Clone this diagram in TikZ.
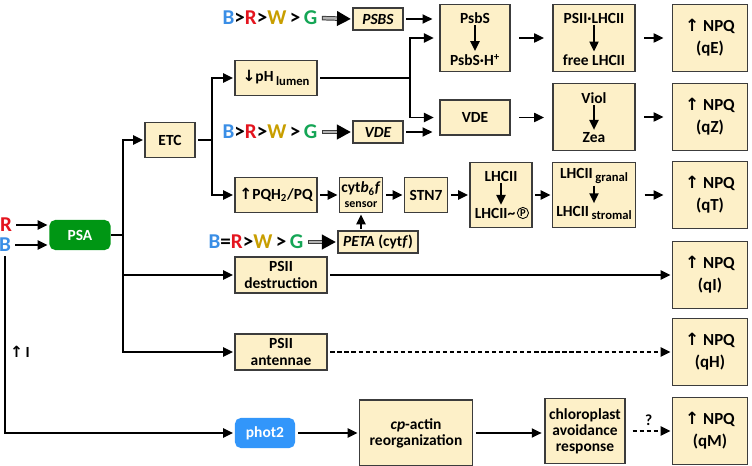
\documentclass[tikz,border=0pt]{standalone}
\usepackage{fontspec}
\setmainfont{Carlito}
\newfontfamily\symf{DejaVu Sans}
\usepackage{tikz}
\usetikzlibrary{positioning,arrows.meta}

\definecolor{boxfill}{RGB}{253,240,200}
\definecolor{boxline}{RGB}{60,60,60}
\definecolor{psagreen}{RGB}{0,150,20}
\definecolor{photblue}{RGB}{50,150,250}
\definecolor{cB}{RGB}{58,142,230}
\definecolor{cR}{RGB}{228,20,30}
\definecolor{cW}{RGB}{200,158,0}
\definecolor{cG}{RGB}{20,165,85}

\newcommand{\up}{{\symf ↑}}
\newcommand{\down}{{\symf ↓}}
\newcommand{\brwg}{\textcolor{cB}{B}>\textcolor{cR}{R}>\textcolor{cW}{W}\,>\,\textcolor{cG}{G}}
\newcommand{\lowsub}[1]{\raisebox{-0.45ex}{\fontsize{9}{9}\selectfont #1}}

\begin{document}
\begin{tikzpicture}[x=0.025cm,y=-0.025cm,
  box/.style={draw=boxline, fill=boxfill, line width=0.8pt, align=center, inner sep=1pt,
    font=\fontsize{11}{11.5}\selectfont\bfseries},
  npq/.style={box, minimum width=1.875cm, minimum height=1.675cm,
    font=\fontsize{12}{15.5}\selectfont\bfseries},
  txt/.style={font=\fontsize{11}{11.5}\selectfont\bfseries, inner sep=1pt},
  seq/.style={font=\fontsize{15}{15}\selectfont\bfseries, inner sep=0pt},
  arr/.style={-{Triangle[length=7pt,width=6.5pt]}, line width=1.1pt, shorten >=1pt},
  line/.style={line width=1.1pt},
  gap/.style={shorten <=6pt, shorten >=6pt},
  dsh/.style={arr, dash pattern=on 3pt off 2pt},
  graw/.style={draw=boxline, line width=3.2pt, -{Triangle[length=10pt,width=10pt,black]},
    shorten <=3pt, shorten >=1pt,
    postaction={draw=black!30, line width=1.8pt, -, shorten <=3.7pt, shorten >=11pt}}]

\useasboundingbox (0,0) rectangle (752,466);

% Light and PSA
\node[seq, text=cR] (Rl) at (6,225) {R};
\node[seq, text=cB] (Bl) at (5,245) {B};
\node[box, draw=none, fill=psagreen, text=white, rounded corners=4pt,
  minimum width=1.525cm, minimum height=0.75cm] (PSA) at (80,235) {PSA};
\draw[arr, shorten <=3pt] (Rl.east) -- (Rl.east -| PSA.west);
\draw[arr, shorten <=3pt] (Bl.east) -- (Bl.east -| PSA.west);

% First fork
\coordinate (j1) at (123,235);
\node[box, minimum width=1.25cm, minimum height=0.875cm] (ETC) at (170,140) {ETC};
\node[box, minimum width=2.3cm, minimum height=0.9cm] (PSIId) at (281,275) {PSII\\destruction};
\node[box, minimum width=2.3cm, minimum height=0.9cm] (PSIIa) at (281,352) {PSII\\antennae};
\draw[line] (PSA.east) -- (j1);
\draw[arr] (j1) |- (ETC.west);
\draw[arr] (j1) |- (PSIId.west);
\draw[arr] (j1) |- (PSIIa.west);

% Second fork
\coordinate (j2) at (212,140);
\node[box, minimum width=2.05cm, minimum height=0.875cm] (pH) at (276,78) {\down pH\,\lowsub{lumen}};
\node[box, minimum width=2.05cm, minimum height=0.875cm] (PQ) at (276,195) {\up PQH\textsubscript{2}/PQ};
\draw[line, shorten <=2pt] (ETC.east) -- (j2);
\draw[arr] (j2) |- (pH.west);
\draw[arr] (j2) |- (PQ.west);

% qE row
\node[seq] (seqE) at (270,18) {\brwg};
\node[box, minimum width=1.25cm, minimum height=0.55cm] (PSBSg) at (378,19) {\textit{PSBS}};
\node[box, minimum width=1.75cm, minimum height=1.675cm] (PsbS) at (475,38) {};
\node[txt] (PsbSa) at (475,18) {PsbS};
\node[txt] (PsbSb) at (475,60) {PsbS·H\textsuperscript{+}};
\node[box, minimum width=2.05cm, minimum height=1.675cm] (PL) at (594,38) {};
\node[txt] (PLa) at (594,18) {PSII·LHCII};
\node[txt] (PLb) at (594,60) {free LHCII};
\node[npq] (qE) at (710,38) {\up\ NPQ\\(qE)};
\draw[graw] (seqE.east) -- (PSBSg.west);
\draw[arr, shorten <=2pt, shorten >=5pt] (PSBSg.east) -- (PSBSg.east -| PsbS.west);
\draw[arr] (PsbSa) -- (PsbSb);
\draw[arr] (PLa) -- (PLb);
\draw[arr, gap] (PsbS) -- (PL);
\draw[arr, gap] (PL) -- (qE);

% pH branch
\coordinate (j3) at (410,78);
\node[box, minimum width=1.75cm, minimum height=0.875cm] (VDE) at (475,117.5) {VDE};
\draw[line, shorten <=2pt] (pH.east) -- (j3);
\draw[arr, shorten >=4pt] (j3) |- (PsbS.west);
\draw[arr, shorten >=4pt] (j3) |- (VDE.west);

% qZ row
\node[seq] (seqZ) at (270,132) {\brwg};
\node[box, minimum width=1.25cm, minimum height=0.55cm] (VDEg) at (378,132) {\textit{VDE}};
\node[box, minimum width=2.05cm, minimum height=1.675cm] (VZ) at (594,117) {};
\node[txt] (VZa) at (594,98) {Viol};
\node[txt] (VZb) at (594,138) {Zea};
\node[npq] (qZ) at (710,117) {\up\ NPQ\\(qZ)};
\draw[graw] (seqZ.east) -- (VDEg.west);
\draw[arr, shorten <=2pt, shorten >=5pt] (VDEg.east) -- (VDEg.east -| VDE.west);
\draw[arr] (VZa) -- (VZb);
\draw[arr, gap] (VDE) -- (VDE -| VZ.west);
\draw[arr, gap] (VZ) -- (qZ);

% qT row
\node[box, minimum width=1.075cm, minimum height=0.875cm] (cyt) at (361,195)
  {cyt\textit{b}\textsubscript{6}\textit{f}\\[-1pt]{\fontsize{8.5}{8.5}\selectfont sensor}};
\node[box, minimum width=1.075cm, minimum height=0.875cm] (STN) at (426,195) {STN7};
\node[box, minimum width=1.55cm, minimum height=1.625cm] (LP) at (501,195) {};
\node[txt] (LPa) at (501,176) {LHCII};
\node[txt] (LPb) at (495,213) {LHCII\textasciitilde};
\node[circle, draw, line width=0.6pt, inner sep=0.6pt, right=0pt of LPb,
  font=\fontsize{7.5}{7.5}\selectfont\bfseries] (LPp) {P};
\node[box, minimum width=2.075cm, minimum height=1.625cm] (GS) at (594,195) {};
\node[txt] (GSa) at (594,176) {LHCII\,\lowsub{granal}};
\node[txt] (GSb) at (594,213) {LHCII\,\lowsub{stromal}};
\node[npq] (qT) at (710,195) {\up\ NPQ\\(qT)};
\draw[arr, shorten <=2pt] (PQ) -- (cyt);
\draw[arr, shorten <=2pt] (cyt) -- (STN);
\draw[arr, shorten <=2pt] (STN) -- (LP);
\draw[arr, shorten <=2pt] (LP) -- (GS);
\draw[arr] (LPa) -- (LPa |- LPb.north);
\draw[arr] (GSa) -- (GSb);
\draw[arr, gap] (GS) -- (qT);

% PETA
\node[seq] (seqT) at (256,242) {\textcolor{cB}{B}=\textcolor{cR}{R}>\textcolor{cW}{W}\,>\,\textcolor{cG}{G}};
\node[box, minimum width=2.0cm, minimum height=0.55cm] (PETA) at (378,242) {\textit{PETA} (cyt\textit{f})};
\draw[graw] (seqT.east) -- (PETA.west);
\draw[arr, shorten <=1pt] (cyt.south |- PETA.north) -- (cyt.south);

% qI and qH
\node[npq] (qI) at (710,275) {\up\ NPQ\\(qI)};
\node[npq] (qH) at (710,352) {\up\ NPQ\\(qH)};
\draw[arr, shorten <=2pt] (PSIId) -- (qI);
\draw[dsh, shorten <=2pt] (PSIIa) -- (qH);

% Blue light
\node[txt] (uI) at (20,352) {\up\,I};
\node[box, draw=none, fill=photblue, text=white, rounded corners=4pt,
  minimum width=1.5cm, minimum height=0.75cm] (phot) at (265,433) {phot2};
\node[box, minimum width=2.825cm, minimum height=1.65cm] (cpa) at (416,433) {\textit{cp}-actin\\reorganization};
\node[box, minimum width=2.0cm, minimum height=1.625cm] (car) at (585,431) {chloroplast\\avoidance\\response};
\node[npq] (qM) at (710,431) {\up\ NPQ\\(qM)};
\draw[arr, shorten <=3pt] (Bl.south) |- (phot.west);
\draw[arr, shorten <=2pt] (phot) -- (phot -| cpa.west);
\draw[arr, shorten <=2pt, shorten >=2pt] (cpa) -- (cpa -| car.west);
\draw[dsh, shorten <=5pt] (car) -- node[txt, above=2pt] (qm) {?} (car -| qM.west);

\end{tikzpicture}
\end{document}
